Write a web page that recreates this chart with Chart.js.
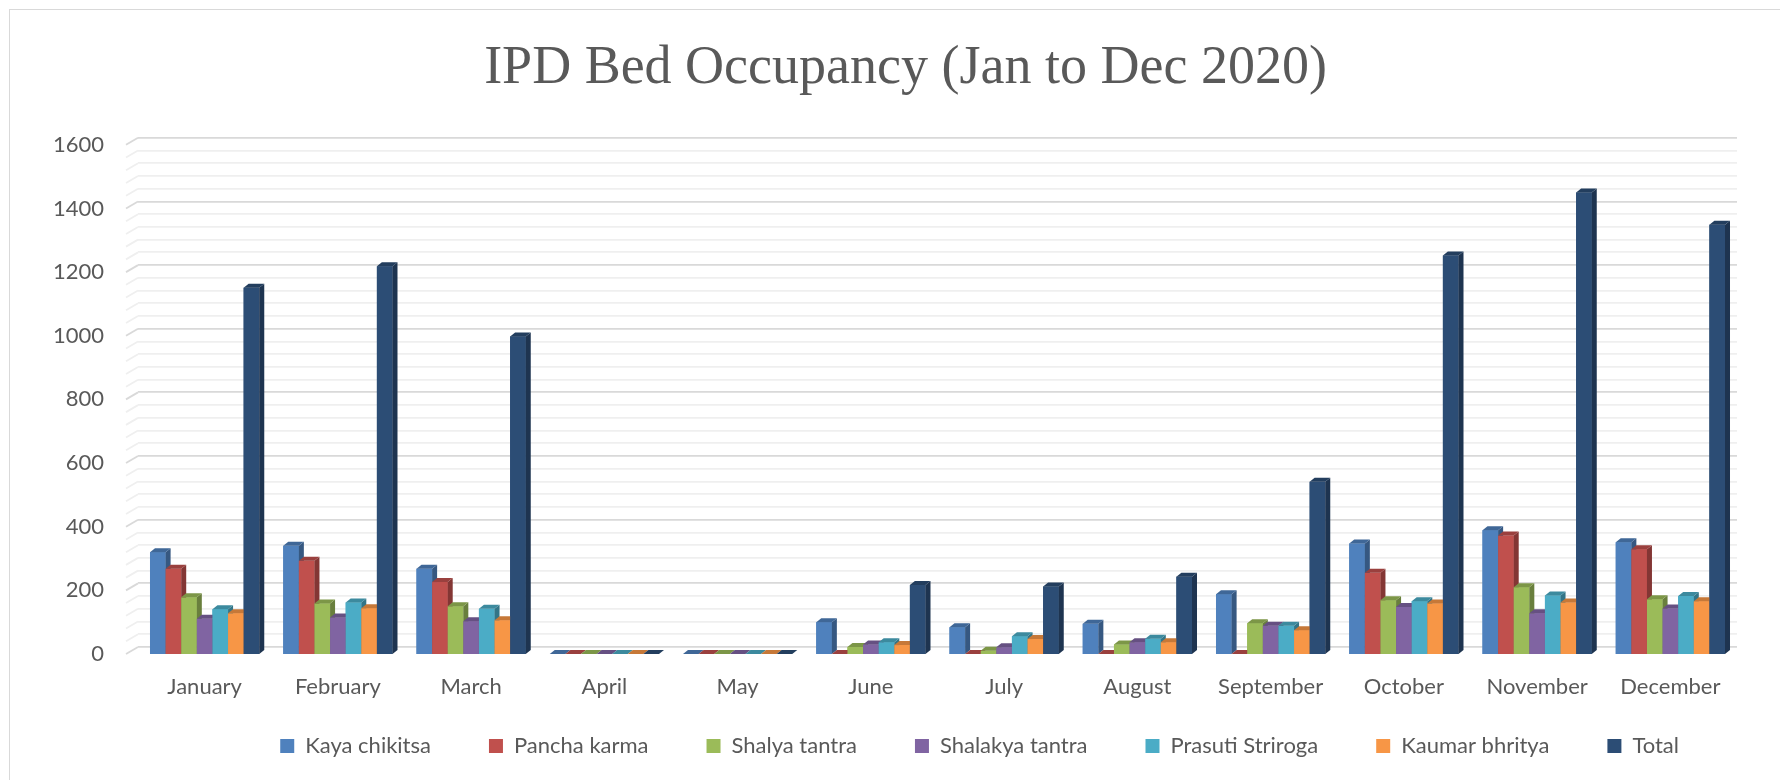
<!DOCTYPE html>
<html>
<head>
<meta charset="utf-8">
<title>IPD Bed Occupancy</title>
<script src="https://cdn.jsdelivr.net/npm/chart.js@4.4.1/dist/chart.umd.min.js"></script>
<style>
    html, body { margin: 0; padding: 0; background: #fff; }
    #wrap { position: relative; width: 1780px; height: 780px; }
    #frame {
        position: absolute; left: 9px; top: 9px; right: 0; bottom: 0;
        border-left: 1px solid #D9D9D9; border-top: 1px solid #D9D9D9;
        pointer-events: none;
    }
    canvas { display: block; }
</style>
</head>
<body>
<div id="wrap">
    <canvas id="bedChart" width="1780" height="780"></canvas>
    <div id="frame"></div>
</div>
<script>
const months = ['January', 'February', 'March', 'April', 'May', 'June', 'July',
    'August', 'September', 'October', 'November', 'December'];

const kayaChikitsa   = [320, 340, 268, 0, 0, 100, 84, 95, 188, 347, 389, 351];
const panchaKarma    = [268, 293, 226, 0, 0, 0, 0, 0, 0, 255, 372, 329];
const shalyaTantra   = [178, 159, 150, 0, 0, 22, 10, 30, 97, 169, 210, 172];
const shalakyaTantra = [111, 115, 103, 0, 0, 30, 21, 37, 89, 148, 128, 143];
const prasutiStriroga = [141, 162, 142, 0, 0, 37, 56, 48, 89, 166, 184, 182];
const kaumarBhritya  = [128, 144, 106, 0, 0, 28, 47, 37, 75, 159, 162, 166];
const totals         = [1151, 1218, 998, 0, 0, 217, 212, 243, 541, 1252, 1450, 1349];

const labelTicks = [0, 200, 400, 600, 800, 1000, 1200, 1400, 1600];
const gridTicks = [];
for (let v = 0; v <= 1600; v += 40) gridTicks.push(v);

// back wall sits a little above the front face of the bars (3D look)
const WALL_SHIFT = 22;
const DEPTH_X = 5, DEPTH_Y = 4;
const TEXT = '#595959';

// y labels are mirrored so they are not clipped; right edge goes at x=104
const measure = document.createElement('canvas').getContext('2d');
measure.font = '22px Lato';
const widestLabel = Math.max(...labelTicks.map(v => measure.measureText(String(v)).width));

function shade(hex, f) {
    const n = parseInt(hex.slice(1), 16);
    const r = Math.round(((n >> 16) & 255) * f);
    const g = Math.round(((n >> 8) & 255) * f);
    const b = Math.round((n & 255) * f);
    return `rgb(${r},${g},${b})`;
}

function poly(ctx, pts) {
    ctx.beginPath();
    ctx.moveTo(pts[0], pts[1]);
    for (let i = 2; i < pts.length; i += 2) ctx.lineTo(pts[i], pts[i + 1]);
    ctx.closePath();
    ctx.fill();
}

// redraw bars left to right with a top and a side face
const bars3d = {
    id: 'bars3d',
    afterDatasetsDraw(chart) {
        const ctx = chart.ctx;
        const sets = chart.data.datasets;
        ctx.save();
        for (let j = 0; j < months.length; j++) {
            sets.forEach((ds, i) => {
                const bar = chart.getDatasetMeta(i).data[j];
                const { x, y, base, width } = bar.getProps(['x', 'y', 'base', 'width'], true);
                const l = x - width / 2, r = x + width / 2;
                ctx.fillStyle = ds.backgroundColor;
                ctx.fillRect(l, y, width, base - y);
                ctx.fillStyle = shade(ds.backgroundColor, 0.68);
                poly(ctx, [r, y, r + DEPTH_X, y - DEPTH_Y, r + DEPTH_X, base - DEPTH_Y, r, base]);
                ctx.fillStyle = shade(ds.backgroundColor, 0.8);
                poly(ctx, [l, y, l + DEPTH_X, y - DEPTH_Y, r + DEPTH_X, y - DEPTH_Y, r, y]);
            });
        }
        ctx.restore();
    }
};

// little floor diagonals on the left end of each grid line
const wallEdge = {
    id: 'wallEdge',
    beforeDatasetsDraw(chart) {
        const ctx = chart.ctx;
        const back = chart.scales.yBack;
        const left = chart.chartArea.left;
        ctx.save();
        ctx.lineWidth = 1.8;
        gridTicks.forEach(v => {
            const yb = back.getPixelForValue(v);
            ctx.strokeStyle = v % 200 === 0 ? '#D9D9D9' : '#EFEFEF';
            ctx.beginPath();
            ctx.moveTo(left, yb);
            ctx.lineTo(left - 12, yb + 7);
            ctx.stroke();
        });
        ctx.restore();
    }
};

const font = (size) => ({ family: 'Lato', size: size, lineHeight: 1 });

const data = {
    labels: months,
    datasets: [
        { label: 'Kaya chikitsa', data: kayaChikitsa, backgroundColor: '#4F81BD' },
        { label: 'Pancha karma', data: panchaKarma, backgroundColor: '#C0504D' },
        { label: 'Shalya tantra', data: shalyaTantra, backgroundColor: '#9BBB59' },
        { label: 'Shalakya tantra', data: shalakyaTantra, backgroundColor: '#8064A2' },
        { label: 'Prasuti Striroga', data: prasutiStriroga, backgroundColor: '#4BACC6' },
        { label: 'Kaumar bhritya', data: kaumarBhritya, backgroundColor: '#F79646' },
        { label: 'Total', data: totals, backgroundColor: '#2C4D75' }
    ].map(ds => Object.assign(ds, {
        categoryPercentage: 0.82,
        barPercentage: 1.0,
        borderWidth: 0,
        yAxisID: 'y'
    }))
};

const config = {
    type: 'bar',
    data: data,
    options: {
        responsive: false,
        animation: false,
        layout: { padding: { left: 74, right: 43, top: 0, bottom: 23 } },
        plugins: {
            title: {
                display: true,
                text: 'IPD Bed Occupancy (Jan to Dec 2020)',
                color: TEXT,
                font: { family: 'Liberation Serif', size: 54, weight: 'normal', lineHeight: 1.2 },
                padding: { top: 36, bottom: 37 }
            },
            legend: {
                position: 'bottom',
                align: 'end',
                maxHeight: 80,
                labels: {
                    color: TEXT,
                    font: font(22),
                    boxWidth: 14,
                    boxHeight: 14,
                    padding: 58
                }
            },
            tooltip: { enabled: false }
        },
        scales: {
            x: {
                grid: { display: false },
                border: { display: false },
                ticks: { color: TEXT, font: font(22), mirror: true, padding: -44 },
                afterFit: s => { s.height = 23; }
            },
            y: {
                position: 'left',
                min: 0,
                max: 1600 + WALL_SHIFT,
                grid: { display: false },
                border: { display: false },
                afterBuildTicks: s => { s.ticks = labelTicks.map(v => ({ value: v })); },
                afterFit: s => { s.width = 64; },
                ticks: {
                    color: TEXT, font: font(22), mirror: true, crossAlign: 'far',
                    padding: 104 - 138 - widestLabel,
                    callback: v => String(v)
                }
            },
            yBack: {
                position: 'left',
                min: -WALL_SHIFT,
                max: 1600,
                border: { display: false },
                grid: {
                    drawTicks: false,
                    lineWidth: 1.8,
                    color: c => (c.tick && c.tick.value % 200 === 0) ? '#D9D9D9' : '#EFEFEF'
                },
                afterBuildTicks: s => { s.ticks = gridTicks.map(v => ({ value: v })); },
                afterFit: s => { s.width = 0; },
                ticks: { display: false }
            }
        }
    },
    plugins: [wallEdge, bars3d]
};

new Chart(document.getElementById('bedChart'), config);
</script>
</body>
</html>
